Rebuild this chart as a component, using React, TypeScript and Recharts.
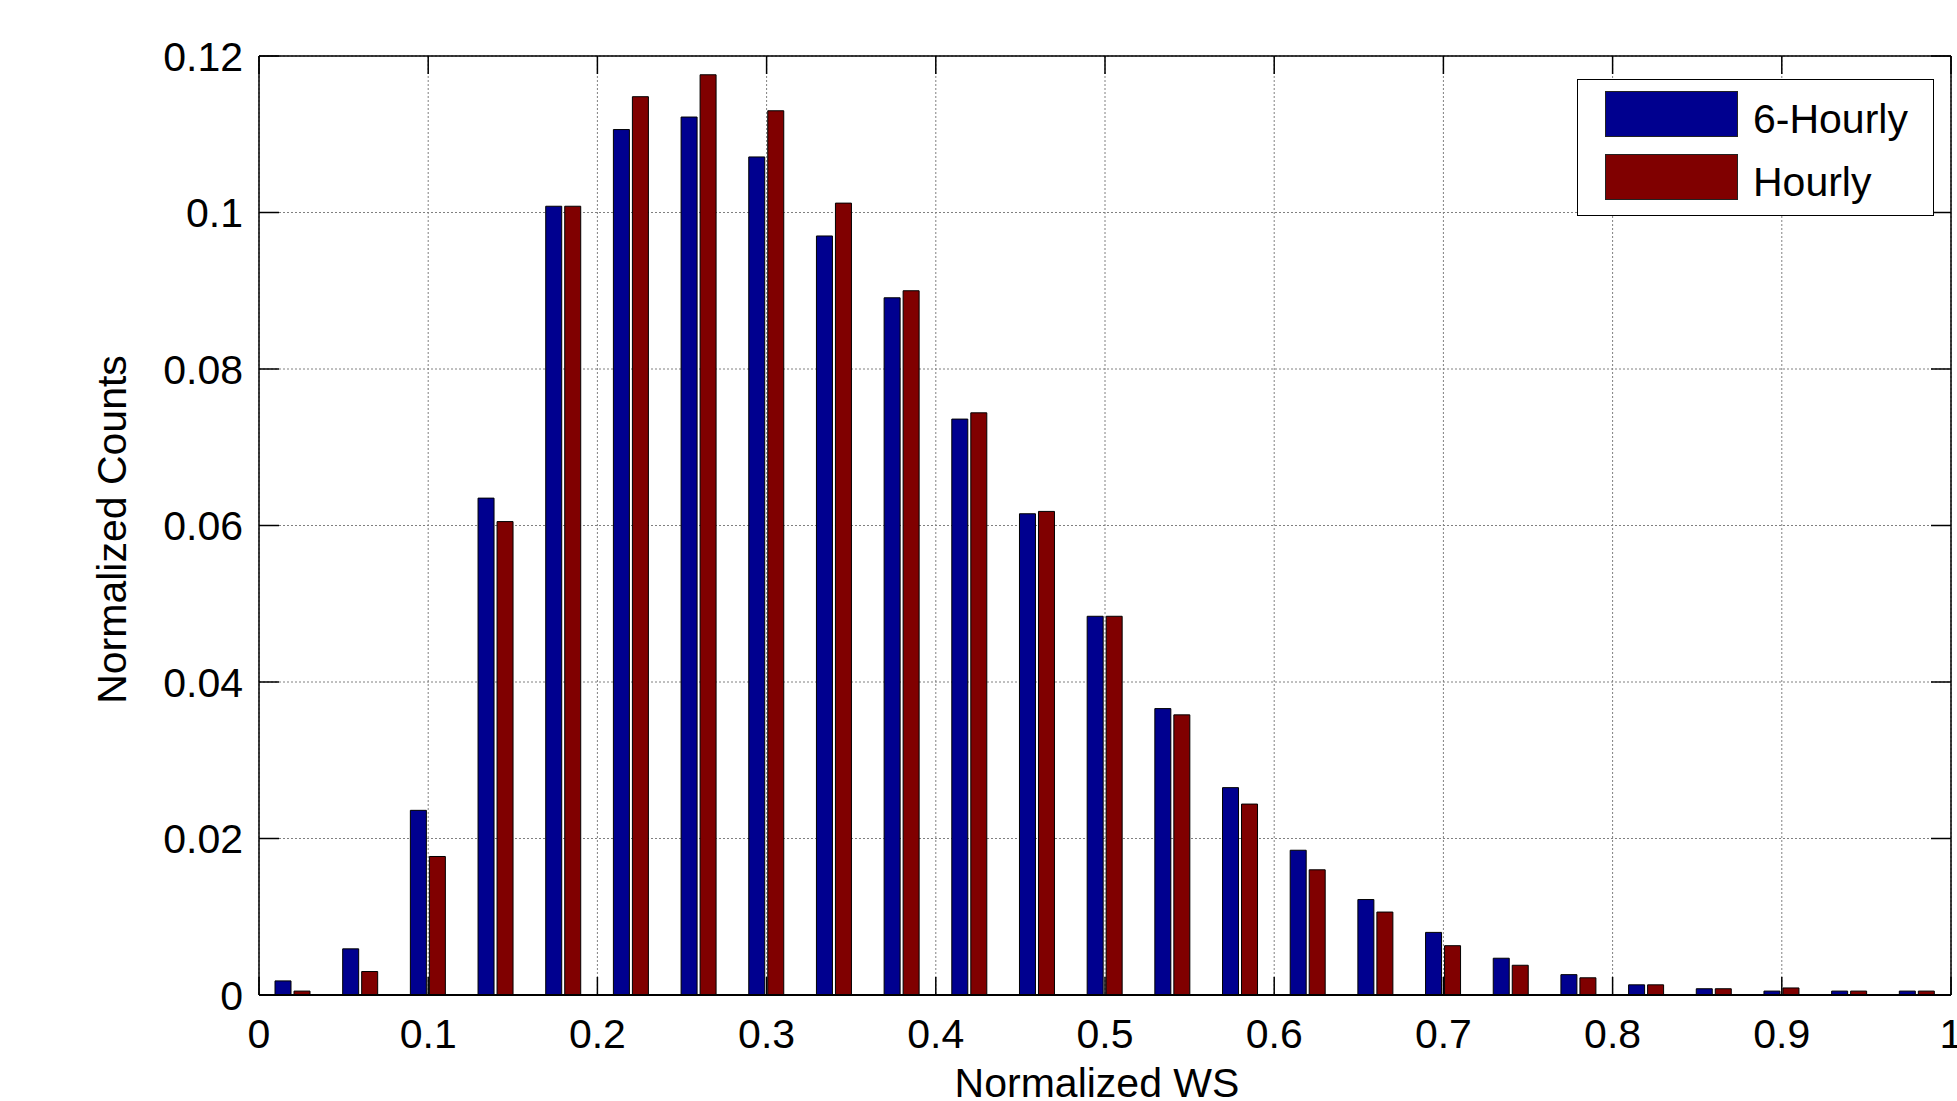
import React from 'react';
import { BarChart, Bar, XAxis, YAxis, CartesianGrid, Legend } from 'recharts';

const binCenters = [0.02, 0.06, 0.10, 0.14, 0.18, 0.22, 0.26, 0.30, 0.34, 0.38, 0.42, 0.46, 0.50, 0.54, 0.58, 0.62, 0.66, 0.70, 0.74, 0.78, 0.82, 0.86, 0.90, 0.94, 0.98];
const sixHourly = [0.0018, 0.0059, 0.0236, 0.0635, 0.1008, 0.1106, 0.1122, 0.1071, 0.0970, 0.0891, 0.0736, 0.0615, 0.0484, 0.0366, 0.0265, 0.0185, 0.0122, 0.0080, 0.0047, 0.0026, 0.0013, 0.0008, 0.0005, 0.0005, 0.0005];
const hourly = [0.0005, 0.0030, 0.0177, 0.0605, 0.1008, 0.1148, 0.1176, 0.1130, 0.1012, 0.0900, 0.0744, 0.0618, 0.0484, 0.0358, 0.0244, 0.0160, 0.0106, 0.0063, 0.0038, 0.0022, 0.0013, 0.0008, 0.0009, 0.0005, 0.0005];
const xTicks = [0, 0.1, 0.2, 0.3, 0.4, 0.5, 0.6, 0.7, 0.8, 0.9, 1];
const yTicks = [0, 0.02, 0.04, 0.06, 0.08, 0.1, 0.12];
const seriesNames = ['6-Hourly', 'Hourly'];
const seriesColors = ['#00008F', '#800000'];

const data = binCenters.map((b, i) => ({ bin: b, six: sixHourly[i], hourly: hourly[i] }));

const FONT = '"Liberation Sans", Arial, Helvetica, sans-serif';
const FS = 41;

const fmt = (v: number) => String(parseFloat(Number(v).toFixed(2)));

const BottomTick = (props: any) => {
  const { x, y, payload } = props;
  return (
    <g>
      <line x1={x} y1={y} x2={x} y2={y - 18} stroke="#000" strokeWidth={1.5} />
      <text x={x} y={y + 53} textAnchor="middle" fontFamily={FONT} fontSize={FS} fill="#000">{fmt(payload.value)}</text>
    </g>
  );
};
const TopTick = (props: any) => {
  const { x, y } = props;
  return <line x1={x} y1={y} x2={x} y2={y + 18} stroke="#000" strokeWidth={1.5} />;
};
const LeftTick = (props: any) => {
  const { x, y, payload } = props;
  return (
    <g>
      <line x1={x} y1={y} x2={x + 20} y2={y} stroke="#000" strokeWidth={1.5} />
      <text x={x - 16} y={y} dy="0.36em" textAnchor="end" fontFamily={FONT} fontSize={FS} fill="#000">{fmt(payload.value)}</text>
    </g>
  );
};
const RightTick = (props: any) => {
  const { x, y } = props;
  return <line x1={x} y1={y} x2={x - 20} y2={y} stroke="#000" strokeWidth={1.5} />;
};

const LegendBox = () => (
  <div style={{ position: 'relative', width: 357, height: 137, border: '1.5px solid #000', background: '#fff', boxSizing: 'border-box', fontFamily: FONT, fontSize: FS, color: '#000' }}>
    {seriesNames.map((n, i) => (
      <React.Fragment key={n}>
        <div style={{ position: 'absolute', left: 27, top: 11 + i * 63, width: 133, height: 46, background: seriesColors[i], border: '1px solid #222', boxSizing: 'border-box' }} />
        <div style={{ position: 'absolute', left: 175, top: 16 + i * 63, height: 46, lineHeight: '46px', whiteSpace: 'nowrap' }}>{n}</div>
      </React.Fragment>
    ))}
  </div>
);

export default function App() {
  return (
    <div style={{ position: 'absolute', left: 0, top: 0, width: 1957, height: 1101, overflow: 'hidden', background: '#fff' }}>
      <BarChart width={1957} height={1101} data={data} margin={{ top: 46, right: 1, bottom: 6, left: 109 }} barSize={16} barGap={3}>
        <CartesianGrid xAxisId="num" yAxisId="left" stroke="#808080" strokeWidth={1} strokeDasharray="2 2" />
        <XAxis xAxisId="cat" dataKey="bin" type="category" hide height={0} />
        <XAxis
          xAxisId="num"
          dataKey="bin"
          type="number"
          domain={[0, 1]}
          ticks={xTicks}
          interval={0}
          height={100}
          tickSize={0}
          tickMargin={0}
          tickLine={false}
          axisLine={{ stroke: '#000', strokeWidth: 2 }}
          tick={<BottomTick />}
          allowDataOverflow
          label={{
            content: (p: any) => {
              const vb = p.viewBox || {};
              return (
                <text x={vb.x + vb.width / 2 - 8} y={vb.y + 102} textAnchor="middle" fontFamily={FONT} fontSize={FS} fill="#000">Normalized WS</text>
              );
            },
          }}
        />
        <XAxis
          xAxisId="top"
          orientation="top"
          dataKey="bin"
          type="number"
          domain={[0, 1]}
          ticks={xTicks}
          interval={0}
          height={10}
          tickSize={0}
          tickMargin={0}
          tickLine={false}
          axisLine={{ stroke: '#000', strokeWidth: 1.5 }}
          tick={<TopTick />}
          allowDataOverflow
        />
        <YAxis
          yAxisId="left"
          type="number"
          domain={[0, 0.12]}
          ticks={yTicks}
          interval={0}
          width={150}
          tickSize={0}
          tickMargin={0}
          tickLine={false}
          axisLine={{ stroke: '#000', strokeWidth: 1.5 }}
          tick={<LeftTick />}
          allowDataOverflow
          label={{
            content: (p: any) => {
              const vb = p.viewBox || {};
              const cx = vb.x + vb.width - 147;
              const cy = vb.y + vb.height / 2 + 4;
              return (
                <text x={cx} y={cy} transform={`rotate(-90 ${cx} ${cy})`} textAnchor="middle" dominantBaseline="central" fontFamily={FONT} fontSize={FS} fill="#000">Normalized Counts</text>
              );
            },
          }}
        />
        <YAxis
          yAxisId="right"
          orientation="right"
          type="number"
          domain={[0, 0.12]}
          ticks={yTicks}
          interval={0}
          width={5}
          tickSize={0}
          tickMargin={0}
          tickLine={false}
          axisLine={{ stroke: '#000', strokeWidth: 1.5 }}
          tick={<RightTick />}
          allowDataOverflow
        />
        <Bar xAxisId="cat" yAxisId="left" dataKey="six" name={seriesNames[0]} fill={seriesColors[0]} stroke="#000" strokeWidth={1} isAnimationActive={false} />
        <Bar xAxisId="cat" yAxisId="left" dataKey="hourly" name={seriesNames[1]} fill={seriesColors[1]} stroke="#000" strokeWidth={1} isAnimationActive={false} />
        <Legend
          layout="vertical"
          align="center"
          verticalAlign="middle"
          content={<LegendBox />}
          wrapperStyle={{ position: 'absolute', left: 1577, top: 79, width: 357, height: 137, right: 'auto', bottom: 'auto', margin: 0 }}
        />
      </BarChart>
    </div>
  );
}
